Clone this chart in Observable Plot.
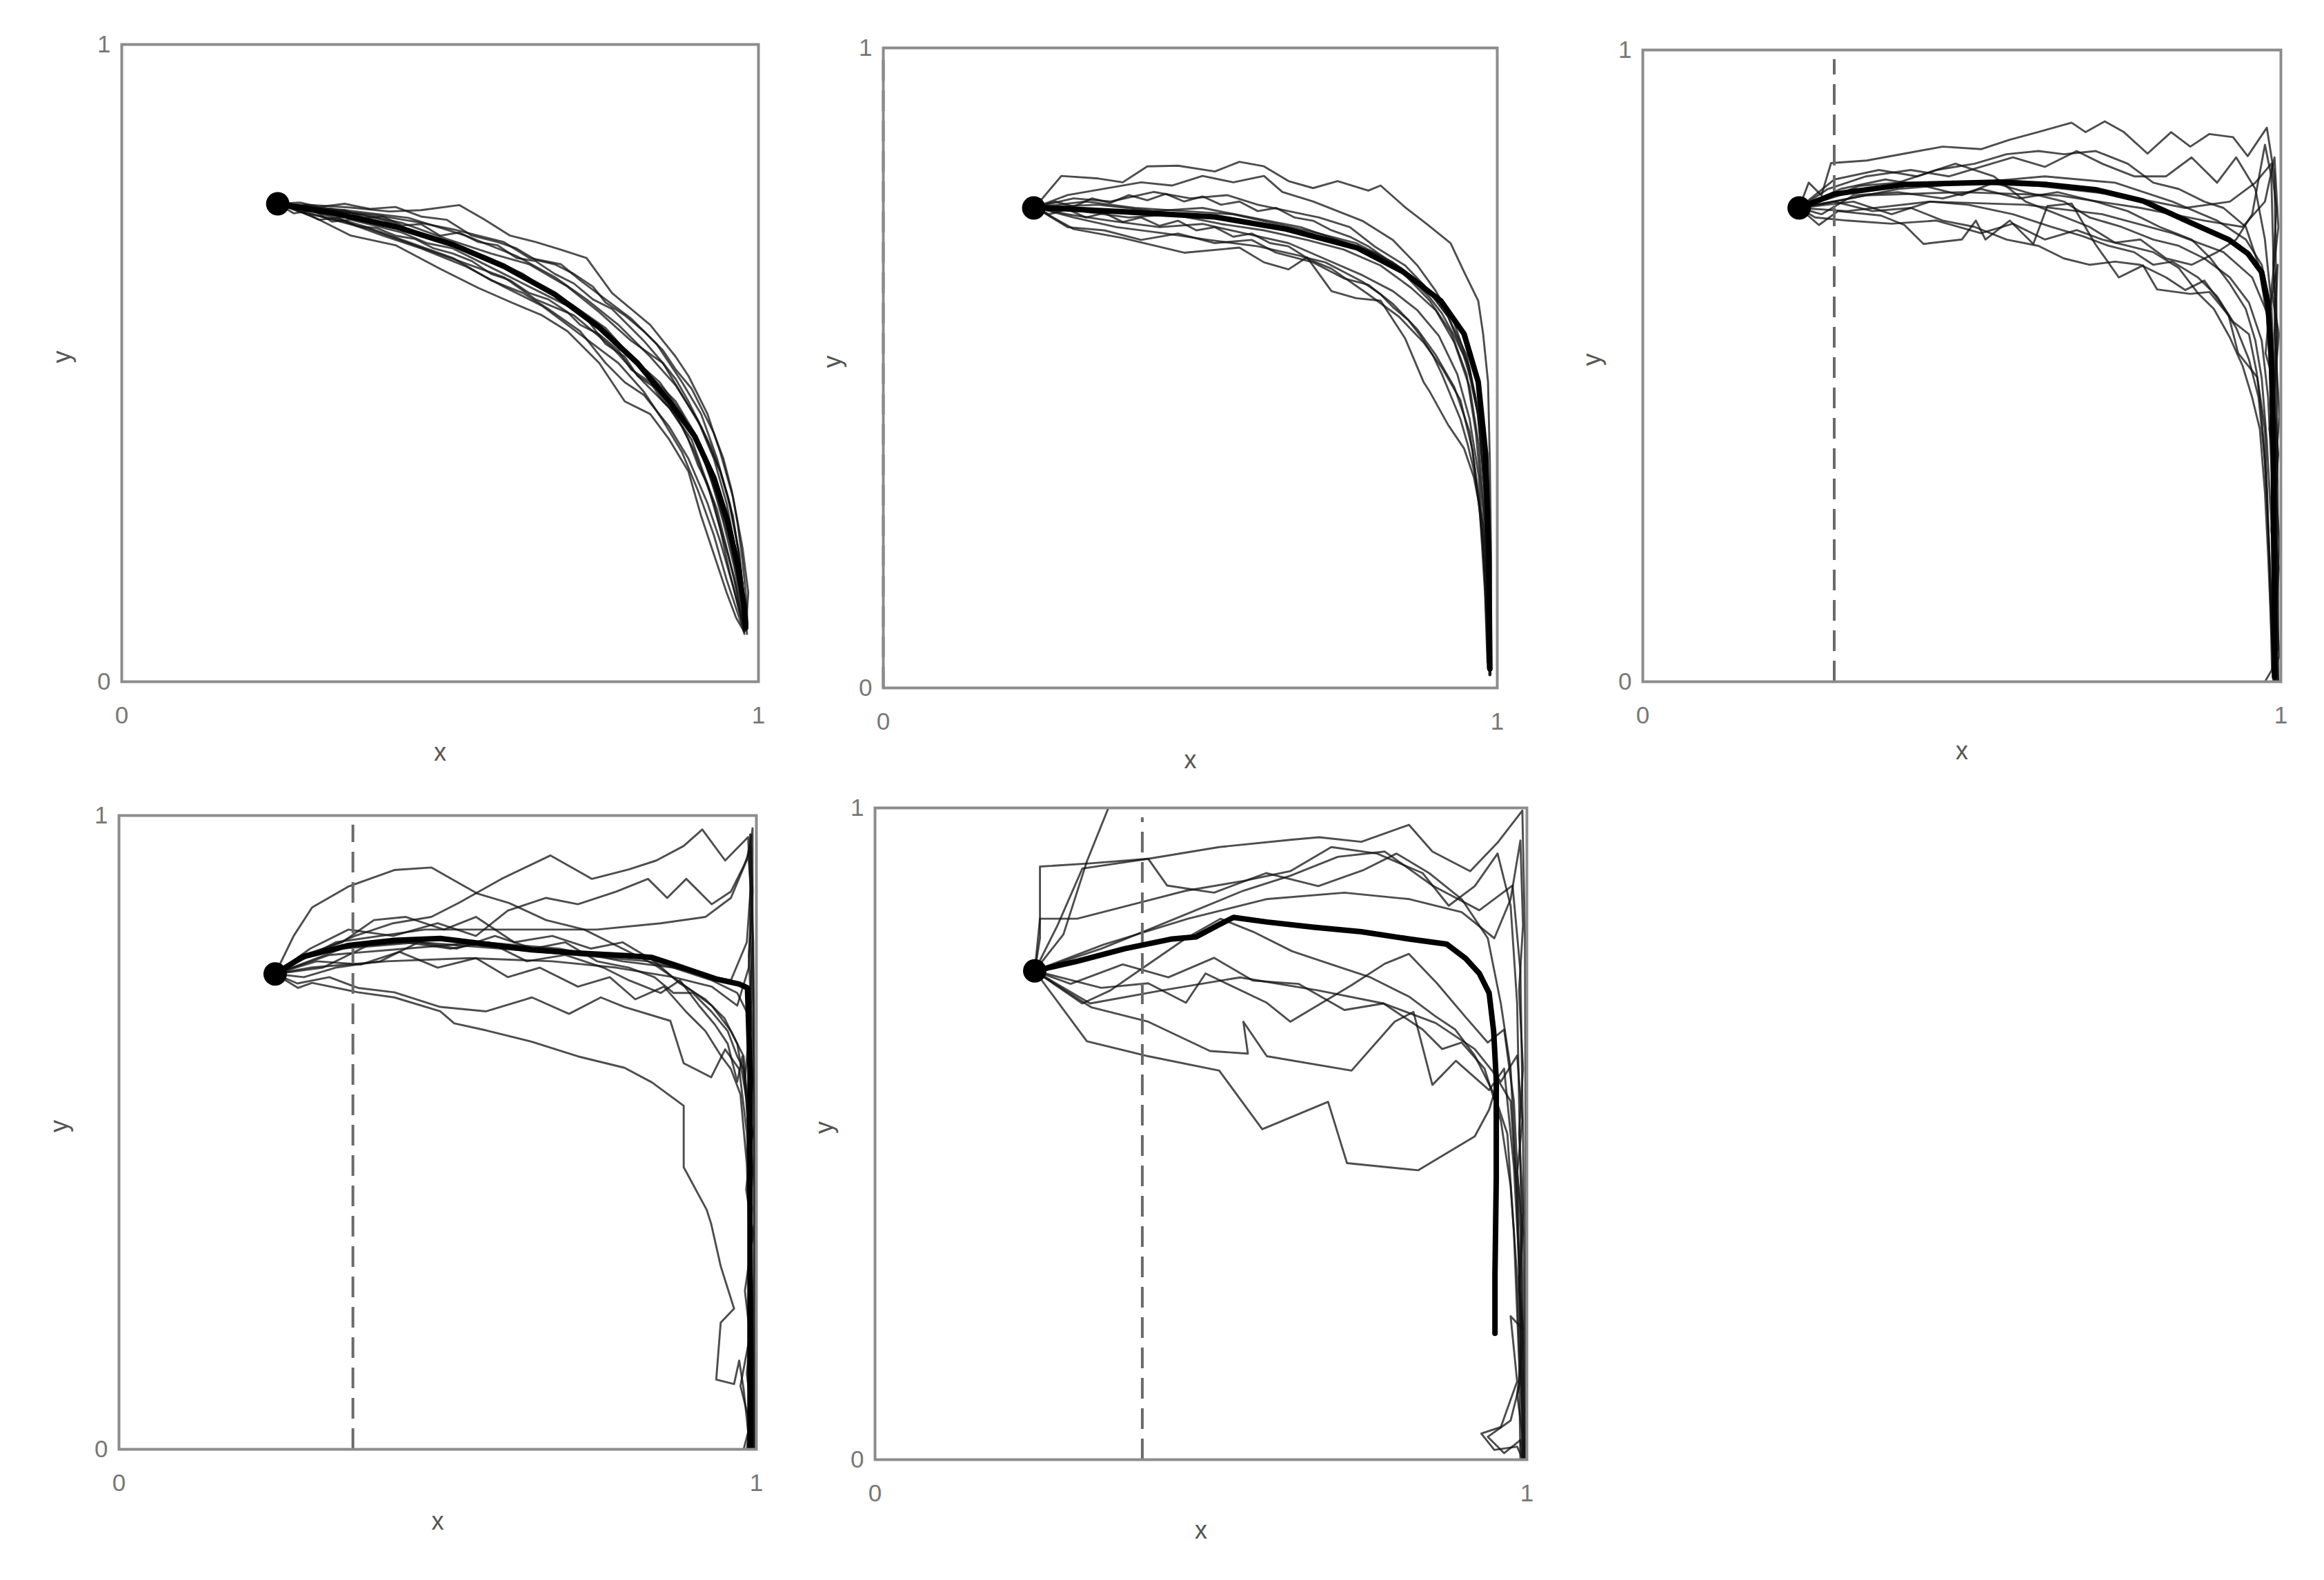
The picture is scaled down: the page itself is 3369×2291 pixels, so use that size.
<!DOCTYPE html>
<html><head><meta charset="utf-8">
<script src="https://cdn.jsdelivr.net/npm/d3@7"></script>
<script src="https://cdn.jsdelivr.net/npm/@observablehq/plot@0.6"></script>
<style>
html,body{margin:0;padding:0;background:#fff;}
#chart{position:relative;width:3369px;height:2291px;overflow:hidden;background:#fff;}
#chart svg{position:absolute;}
</style></head><body><div id="chart"></div>
<script>
// ---------- data (normalised x,y) ----------
const start = [0.245, 0.75];
const tickValues = [0, 1];
const dashX = [null, 0, 0.30, 0.367, 0.41];

const p1Mean = [[0.245,0.75],[0.33,0.736],[0.43,0.714],[0.52,0.686],[0.6,0.652],[0.68,0.608],[0.75,0.556],[0.81,0.5],[0.86,0.44],[0.9,0.385],[0.93,0.32],[0.952,0.25],[0.968,0.18],[0.977,0.12],[0.98,0.085]];
const p1Paths = [
 [[0.245,0.75],[0.30,0.748],[0.36,0.744],[0.42,0.738],[0.47,0.74],[0.53,0.748],[0.57,0.725],[0.61,0.70],[0.65,0.69],[0.69,0.678],[0.73,0.665],[0.77,0.61],[0.83,0.56],[0.87,0.51],[0.89,0.48],[0.92,0.42],[0.94,0.36],[0.96,0.29],[0.975,0.21],[0.984,0.14],[0.98,0.08]],
 [[0.245,0.75],[0.32,0.74],[0.40,0.732],[0.46,0.722],[0.52,0.71],[0.56,0.70],[0.60,0.69],[0.64,0.665],[0.69,0.655],[0.72,0.63],[0.76,0.60],[0.80,0.57],[0.84,0.53],[0.88,0.47],[0.91,0.42],[0.935,0.35],[0.955,0.28],[0.97,0.2],[0.978,0.12],[0.982,0.075]],
 [[0.245,0.75],[0.30,0.73],[0.36,0.70],[0.43,0.685],[0.50,0.648],[0.56,0.618],[0.61,0.596],[0.66,0.575],[0.70,0.55],[0.75,0.50],[0.79,0.44],[0.83,0.42],[0.86,0.38],[0.89,0.33],[0.91,0.26],[0.93,0.20],[0.95,0.14],[0.965,0.10],[0.978,0.078]],
 [[0.245,0.75],[0.31,0.735],[0.38,0.715],[0.45,0.69],[0.52,0.665],[0.58,0.63],[0.63,0.61],[0.67,0.585],[0.72,0.55],[0.76,0.50],[0.79,0.47],[0.82,0.45],[0.86,0.40],[0.89,0.35],[0.92,0.28],[0.94,0.22],[0.96,0.15],[0.975,0.09]],
 [[0.245,0.75],[0.33,0.742],[0.41,0.725],[0.48,0.70],[0.55,0.675],[0.61,0.645],[0.66,0.62],[0.71,0.59],[0.76,0.555],[0.80,0.51],[0.845,0.47],[0.88,0.42],[0.91,0.36],[0.935,0.29],[0.955,0.22],[0.97,0.15],[0.98,0.09]],
 [[0.245,0.75],[0.34,0.73],[0.42,0.718],[0.50,0.69],[0.57,0.668],[0.63,0.64],[0.69,0.60],[0.74,0.565],[0.79,0.52],[0.83,0.48],[0.87,0.44],[0.90,0.39],[0.925,0.32],[0.945,0.25],[0.962,0.18],[0.975,0.11],[0.982,0.085]],
 [[0.245,0.75],[0.30,0.74],[0.37,0.735],[0.44,0.72],[0.51,0.695],[0.58,0.672],[0.64,0.655],[0.70,0.62],[0.75,0.58],[0.80,0.535],[0.85,0.50],[0.88,0.45],[0.91,0.40],[0.94,0.33],[0.96,0.26],[0.972,0.18],[0.98,0.10]],
 [[0.245,0.75],[0.32,0.728],[0.39,0.71],[0.46,0.685],[0.53,0.66],[0.60,0.635],[0.65,0.60],[0.71,0.575],[0.77,0.525],[0.82,0.47],[0.86,0.43],[0.895,0.38],[0.92,0.31],[0.94,0.24],[0.955,0.17],[0.968,0.12],[0.978,0.08]],
 [[0.245,0.75],[0.35,0.74],[0.45,0.728],[0.54,0.70],[0.62,0.668],[0.68,0.635],[0.73,0.60],[0.78,0.56],[0.83,0.51],[0.87,0.465],[0.905,0.41],[0.93,0.35],[0.95,0.28],[0.965,0.2],[0.976,0.13],[0.98,0.09]],
 [[0.245,0.75],[0.29,0.735],[0.35,0.722],[0.41,0.70],[0.47,0.68],[0.54,0.652],[0.60,0.62],[0.66,0.59],[0.72,0.545],[0.78,0.50],[0.82,0.455],[0.85,0.41],[0.88,0.36],[0.905,0.30],[0.93,0.23],[0.95,0.16],[0.97,0.1],[0.978,0.075]],
 [[0.245,0.75],[0.27,0.745],[0.29,0.748],[0.32,0.738],[0.35,0.74],[0.38,0.728],[0.41,0.73],[0.44,0.716],[0.47,0.718],[0.50,0.70],[0.53,0.705],[0.56,0.69],[0.59,0.685],[0.62,0.665],[0.65,0.66],[0.68,0.64],[0.71,0.625],[0.74,0.60],[0.77,0.585],[0.80,0.555],[0.82,0.535],[0.85,0.50],[0.87,0.475],[0.89,0.44],[0.91,0.40],[0.925,0.37],[0.94,0.33],[0.952,0.29],[0.96,0.25],[0.968,0.21],[0.974,0.16],[0.978,0.12],[0.981,0.085]],
 [[0.245,0.75],[0.28,0.738],[0.31,0.725],[0.34,0.728],[0.37,0.715],[0.40,0.712],[0.43,0.70],[0.46,0.695],[0.49,0.68],[0.52,0.672],[0.55,0.66],[0.58,0.64],[0.61,0.63],[0.64,0.61],[0.67,0.60],[0.70,0.58],[0.72,0.56],[0.75,0.545],[0.78,0.52],[0.80,0.49],[0.83,0.47],[0.85,0.44],[0.87,0.42],[0.89,0.38],[0.905,0.34],[0.92,0.31],[0.935,0.27],[0.945,0.23],[0.955,0.19],[0.965,0.15],[0.972,0.11],[0.978,0.08]],
 [[0.245,0.75],[0.28,0.752],[0.31,0.745],[0.35,0.75],[0.39,0.742],[0.43,0.745],[0.47,0.73],[0.51,0.725],[0.55,0.70],[0.59,0.69],[0.62,0.68],[0.65,0.662],[0.68,0.655],[0.71,0.64],[0.74,0.62],[0.76,0.595],[0.79,0.575],[0.82,0.55],[0.85,0.52],[0.87,0.49],[0.895,0.46],[0.91,0.43],[0.93,0.39],[0.945,0.35],[0.958,0.30],[0.967,0.25],[0.975,0.19],[0.98,0.14],[0.983,0.09]],
 [[0.245,0.75],[0.27,0.735],[0.30,0.74],[0.33,0.722],[0.36,0.725],[0.40,0.715],[0.44,0.705],[0.48,0.688],[0.52,0.68],[0.56,0.66],[0.60,0.64],[0.63,0.625],[0.66,0.61],[0.70,0.59],[0.73,0.57],[0.76,0.53],[0.79,0.51],[0.81,0.48],[0.84,0.46],[0.86,0.43],[0.88,0.40],[0.90,0.36],[0.915,0.32],[0.93,0.28],[0.94,0.24],[0.952,0.20],[0.962,0.16],[0.97,0.12],[0.977,0.085]]
];

const p2Mean = [[0.247,0.751],[0.39,0.744],[0.54,0.736],[0.656,0.717],[0.771,0.688],[0.847,0.65],[0.908,0.605],[0.946,0.553],[0.969,0.478],[0.981,0.366],[0.986,0.217],[0.988,0.03]];
const p2Paths = [
 [[0.247,0.751],[0.29,0.80],[0.35,0.796],[0.39,0.79],[0.43,0.815],[0.48,0.816],[0.54,0.807],[0.58,0.822],[0.62,0.815],[0.66,0.792],[0.70,0.781],[0.74,0.792],[0.79,0.777],[0.81,0.785],[0.85,0.751],[0.885,0.725],[0.924,0.695],[0.946,0.65],[0.969,0.605],[0.977,0.553],[0.985,0.478],[0.988,0.35],[0.99,0.2],[0.99,0.03]],
 [[0.247,0.751],[0.30,0.77],[0.36,0.78],[0.42,0.79],[0.47,0.785],[0.52,0.80],[0.57,0.79],[0.62,0.80],[0.65,0.775],[0.70,0.76],[0.74,0.745],[0.78,0.73],[0.83,0.70],[0.87,0.66],[0.90,0.62],[0.93,0.57],[0.955,0.50],[0.97,0.42],[0.98,0.30],[0.985,0.15],[0.988,0.02]],
 [[0.247,0.751],[0.31,0.765],[0.37,0.76],[0.44,0.775],[0.50,0.765],[0.56,0.77],[0.61,0.755],[0.66,0.745],[0.71,0.735],[0.76,0.72],[0.80,0.69],[0.85,0.66],[0.89,0.62],[0.92,0.58],[0.95,0.52],[0.968,0.44],[0.978,0.33],[0.984,0.2],[0.987,0.05]],
 [[0.247,0.751],[0.31,0.717],[0.39,0.703],[0.49,0.68],[0.58,0.688],[0.62,0.665],[0.66,0.654],[0.69,0.673],[0.73,0.62],[0.77,0.609],[0.81,0.605],[0.85,0.546],[0.88,0.478],[0.89,0.463],[0.92,0.411],[0.946,0.374],[0.962,0.329],[0.977,0.254],[0.985,0.142],[0.989,0.022]],
 [[0.247,0.751],[0.30,0.72],[0.36,0.715],[0.42,0.70],[0.48,0.71],[0.54,0.695],[0.60,0.70],[0.64,0.68],[0.70,0.665],[0.75,0.64],[0.79,0.63],[0.83,0.60],[0.87,0.56],[0.90,0.52],[0.93,0.47],[0.955,0.40],[0.97,0.30],[0.98,0.18],[0.986,0.04]],
 [[0.247,0.751],[0.32,0.745],[0.40,0.735],[0.47,0.74],[0.55,0.725],[0.62,0.715],[0.69,0.70],[0.75,0.685],[0.81,0.66],[0.86,0.625],[0.90,0.59],[0.93,0.54],[0.955,0.47],[0.97,0.38],[0.98,0.26],[0.985,0.12],[0.987,0.03]],
 [[0.247,0.751],[0.33,0.76],[0.41,0.75],[0.49,0.745],[0.57,0.74],[0.64,0.725],[0.71,0.71],[0.77,0.695],[0.83,0.665],[0.88,0.63],[0.92,0.58],[0.95,0.51],[0.968,0.43],[0.98,0.31],[0.986,0.18],[0.988,0.04]],
 [[0.247,0.751],[0.30,0.74],[0.37,0.73],[0.45,0.72],[0.52,0.725],[0.59,0.71],[0.66,0.695],[0.72,0.67],[0.78,0.645],[0.83,0.62],[0.87,0.59],[0.905,0.55],[0.935,0.49],[0.955,0.42],[0.97,0.33],[0.978,0.22],[0.983,0.1],[0.985,0.03]],
 [[0.247,0.751],[0.35,0.755],[0.44,0.745],[0.52,0.75],[0.60,0.735],[0.68,0.72],[0.74,0.70],[0.80,0.68],[0.85,0.645],[0.89,0.605],[0.925,0.555],[0.95,0.49],[0.965,0.40],[0.977,0.28],[0.984,0.15],[0.987,0.02]],
 [[0.247,0.751],[0.31,0.735],[0.38,0.72],[0.46,0.71],[0.53,0.70],[0.61,0.69],[0.68,0.675],[0.73,0.655],[0.79,0.615],[0.84,0.58],[0.88,0.54],[0.91,0.50],[0.94,0.45],[0.96,0.37],[0.972,0.27],[0.98,0.15],[0.984,0.04]],
 [[0.247,0.751],[0.28,0.76],[0.31,0.752],[0.34,0.765],[0.37,0.758],[0.40,0.77],[0.43,0.762],[0.46,0.772],[0.49,0.76],[0.52,0.768],[0.55,0.755],[0.58,0.76],[0.61,0.745],[0.64,0.75],[0.67,0.735],[0.70,0.73],[0.73,0.715],[0.76,0.705],[0.79,0.69],[0.82,0.67],[0.845,0.655],[0.87,0.63],[0.89,0.61],[0.91,0.585],[0.93,0.55],[0.945,0.52],[0.958,0.48],[0.968,0.43],[0.975,0.37],[0.98,0.30],[0.984,0.22],[0.986,0.14],[0.988,0.06],[0.989,0.02]],
 [[0.247,0.751],[0.27,0.74],[0.30,0.748],[0.33,0.735],[0.36,0.742],[0.39,0.728],[0.42,0.735],[0.45,0.722],[0.48,0.73],[0.51,0.715],[0.54,0.72],[0.57,0.705],[0.60,0.71],[0.63,0.695],[0.66,0.69],[0.69,0.672],[0.72,0.665],[0.75,0.65],[0.78,0.635],[0.81,0.615],[0.83,0.595],[0.855,0.575],[0.875,0.55],[0.895,0.52],[0.91,0.49],[0.925,0.455],[0.94,0.42],[0.952,0.38],[0.962,0.34],[0.97,0.29],[0.976,0.23],[0.98,0.16],[0.983,0.09],[0.985,0.03]]
];

const p3Mean = [[0.245,0.75],[0.30,0.772],[0.41,0.787],[0.56,0.791],[0.634,0.787],[0.709,0.779],[0.784,0.761],[0.858,0.727],[0.918,0.70],[0.948,0.678],[0.97,0.648],[0.98,0.595],[0.985,0.52],[0.988,0.369],[0.989,0.218],[0.99,0.008]];
const p3Paths = [
 [[0.245,0.75],[0.26,0.79],[0.28,0.77],[0.295,0.821],[0.351,0.825],[0.41,0.836],[0.47,0.847],[0.53,0.843],[0.575,0.858],[0.619,0.87],[0.672,0.885],[0.694,0.87],[0.724,0.887],[0.754,0.87],[0.791,0.836],[0.828,0.87],[0.858,0.847],[0.888,0.867],[0.925,0.862],[0.948,0.832],[0.978,0.877],[0.99,0.80],[0.993,0.6],[0.995,0.3],[0.996,0.0]],
 [[0.245,0.75],[0.29,0.78],[0.35,0.80],[0.42,0.81],[0.48,0.80],[0.53,0.815],[0.58,0.83],[0.63,0.815],[0.68,0.84],[0.72,0.82],[0.77,0.80],[0.82,0.80],[0.86,0.83],[0.90,0.79],[0.93,0.83],[0.96,0.78],[0.975,0.70],[0.985,0.60],[0.99,0.45],[0.993,0.2],[0.994,0.0]],
 [[0.245,0.75],[0.276,0.723],[0.306,0.745],[0.373,0.738],[0.41,0.723],[0.44,0.693],[0.50,0.70],[0.522,0.73],[0.537,0.70],[0.575,0.73],[0.612,0.693],[0.634,0.753],[0.672,0.757],[0.709,0.693],[0.746,0.64],[0.784,0.659],[0.806,0.621],[0.858,0.614],[0.888,0.617],[0.918,0.58],[0.933,0.52],[0.963,0.482],[0.975,0.40],[0.98,0.25],[0.985,0.1],[0.99,0.0]],
 [[0.245,0.75],[0.30,0.76],[0.36,0.745],[0.42,0.75],[0.47,0.73],[0.52,0.72],[0.57,0.70],[0.62,0.69],[0.66,0.67],[0.70,0.66],[0.74,0.665],[0.78,0.66],[0.82,0.64],[0.85,0.62],[0.88,0.635],[0.905,0.60],[0.93,0.56],[0.95,0.51],[0.965,0.45],[0.975,0.35],[0.982,0.2],[0.986,0.02]],
 [[0.245,0.75],[0.31,0.78],[0.38,0.795],[0.44,0.785],[0.50,0.77],[0.55,0.79],[0.60,0.775],[0.66,0.76],[0.70,0.735],[0.75,0.72],[0.80,0.70],[0.84,0.69],[0.88,0.67],[0.92,0.64],[0.95,0.60],[0.97,0.54],[0.98,0.45],[0.987,0.3],[0.99,0.1],[0.992,0.0]],
 [[0.245,0.75],[0.30,0.795],[0.37,0.81],[0.43,0.80],[0.49,0.82],[0.55,0.80],[0.60,0.76],[0.65,0.74],[0.70,0.72],[0.74,0.695],[0.78,0.70],[0.82,0.67],[0.86,0.66],[0.90,0.68],[0.93,0.70],[0.955,0.74],[0.975,0.85],[0.985,0.80],[0.99,0.6],[0.993,0.35],[0.995,0.05]],
 [[0.245,0.75],[0.28,0.74],[0.33,0.77],[0.40,0.775],[0.47,0.765],[0.53,0.78],[0.59,0.765],[0.65,0.775],[0.71,0.76],[0.76,0.745],[0.81,0.72],[0.86,0.70],[0.89,0.67],[0.92,0.63],[0.945,0.59],[0.96,0.54],[0.97,0.48],[0.978,0.38],[0.985,0.25],[0.99,0.1],[0.992,0.0]],
 [[0.245,0.75],[0.33,0.76],[0.39,0.74],[0.45,0.76],[0.51,0.755],[0.58,0.74],[0.64,0.72],[0.69,0.705],[0.73,0.69],[0.77,0.68],[0.80,0.66],[0.83,0.665],[0.87,0.64],[0.90,0.61],[0.925,0.57],[0.95,0.55],[0.962,0.49],[0.97,0.42],[0.978,0.30],[0.984,0.15],[0.988,0.0]],
 [[0.245,0.75],[0.29,0.765],[0.34,0.785],[0.40,0.79],[0.46,0.81],[0.52,0.82],[0.57,0.835],[0.62,0.84],[0.66,0.835],[0.71,0.84],[0.76,0.82],[0.80,0.79],[0.84,0.78],[0.88,0.76],[0.91,0.75],[0.945,0.72],[0.965,0.66],[0.978,0.58],[0.985,0.45],[0.99,0.25],[0.993,0.03]],
 [[0.245,0.75],[0.27,0.735],[0.32,0.73],[0.39,0.725],[0.46,0.73],[0.53,0.71],[0.58,0.725],[0.63,0.70],[0.68,0.715],[0.72,0.70],[0.76,0.69],[0.80,0.68],[0.84,0.655],[0.87,0.615],[0.895,0.59],[0.92,0.545],[0.94,0.50],[0.955,0.45],[0.967,0.40],[0.975,0.30],[0.98,0.2],[0.985,0.08],[0.99,0.0]],
 [[0.245,0.75],[0.35,0.77],[0.5,0.775],[0.65,0.77],[0.78,0.75],[0.88,0.73],[0.94,0.72],[0.975,0.76],[0.99,0.83],[0.996,0.72],[0.985,0.62],[0.997,0.55],[0.988,0.45],[0.996,0.36],[0.986,0.27],[0.997,0.18],[0.99,0.09],[0.996,0.0]],
 [[0.245,0.75],[0.32,0.745],[0.45,0.76],[0.60,0.755],[0.72,0.74],[0.83,0.71],[0.91,0.68],[0.955,0.64],[0.98,0.58],[0.995,0.66],[0.99,0.55],[0.998,0.42],[0.99,0.33],[0.998,0.22],[0.992,0.12],[0.998,0.04],[0.975,0.0]],
 [[0.245,0.75],[0.30,0.76],[0.40,0.78],[0.52,0.79],[0.63,0.80],[0.74,0.79],[0.83,0.76],[0.90,0.73],[0.945,0.70],[0.97,0.66],[0.983,0.60],[0.976,0.52],[0.99,0.47],[0.982,0.40],[0.994,0.32],[0.985,0.24],[0.995,0.15],[0.988,0.06],[0.993,0.0]],
 [[0.245,0.75],[0.34,0.78],[0.48,0.79],[0.62,0.785],[0.75,0.77],[0.85,0.75],[0.92,0.76],[0.96,0.79],[0.985,0.82],[0.993,0.75],[0.988,0.66],[0.994,0.55],[0.989,0.45],[0.995,0.35],[0.989,0.25],[0.994,0.15],[0.99,0.05],[0.994,0.0]]
];

const p4Mean = [[0.245,0.75],[0.288,0.777],[0.36,0.795],[0.432,0.803],[0.504,0.806],[0.576,0.797],[0.648,0.788],[0.72,0.783],[0.793,0.779],[0.836,0.776],[0.879,0.762],[0.937,0.742],[0.973,0.734],[0.986,0.728],[0.99,0.6],[0.99,0.3],[0.99,0.0]];
const p4Paths = [
 [[0.245,0.75],[0.281,0.728],[0.303,0.736],[0.375,0.721],[0.432,0.713],[0.504,0.691],[0.526,0.672],[0.576,0.661],[0.648,0.643],[0.72,0.62],[0.793,0.602],[0.836,0.579],[0.886,0.542],[0.886,0.445],[0.922,0.378],[0.929,0.356],[0.944,0.289],[0.965,0.222],[0.944,0.20],[0.937,0.11],[0.965,0.103],[0.973,0.14],[0.98,0.095],[0.987,0.028],[0.994,0.002]],
 [[0.245,0.75],[0.274,0.81],[0.303,0.855],[0.36,0.888],[0.432,0.914],[0.49,0.918],[0.562,0.877],[0.612,0.862],[0.67,0.835],[0.73,0.82],[0.79,0.79],[0.84,0.765],[0.89,0.73],[0.93,0.70],[0.96,0.66],[0.98,0.62],[0.99,0.5],[0.993,0.3],[0.995,0.1],[0.995,0.0]],
 [[0.245,0.75],[0.30,0.78],[0.37,0.81],[0.43,0.83],[0.49,0.84],[0.533,0.862],[0.60,0.90],[0.677,0.937],[0.742,0.90],[0.80,0.915],[0.843,0.929],[0.886,0.952],[0.915,0.978],[0.951,0.929],[0.987,0.966],[0.995,0.8],[0.996,0.5],[0.997,0.2],[0.997,0.0]],
 [[0.245,0.75],[0.28,0.735],[0.33,0.745],[0.375,0.728],[0.432,0.721],[0.504,0.698],[0.576,0.691],[0.648,0.713],[0.706,0.687],[0.756,0.713],[0.793,0.698],[0.865,0.676],[0.886,0.609],[0.929,0.587],[0.951,0.631],[0.973,0.6],[0.985,0.5],[0.99,0.35],[0.993,0.15],[0.995,0.0]],
 [[0.245,0.75],[0.29,0.78],[0.35,0.80],[0.40,0.835],[0.45,0.84],[0.51,0.82],[0.56,0.84],[0.62,0.80],[0.68,0.81],[0.74,0.79],[0.79,0.80],[0.84,0.77],[0.88,0.735],[0.92,0.71],[0.95,0.68],[0.97,0.64],[0.985,0.55],[0.99,0.4],[0.994,0.2],[0.996,0.0]],
 [[0.245,0.75],[0.31,0.77],[0.38,0.765],[0.44,0.785],[0.50,0.76],[0.56,0.775],[0.61,0.745],[0.66,0.76],[0.72,0.73],[0.77,0.745],[0.81,0.71],[0.855,0.73],[0.89,0.69],[0.92,0.66],[0.945,0.62],[0.96,0.60],[0.975,0.56],[0.985,0.45],[0.99,0.3],[0.994,0.1],[0.995,0.0]],
 [[0.245,0.75],[0.30,0.79],[0.36,0.82],[0.43,0.81],[0.50,0.83],[0.56,0.81],[0.61,0.85],[0.67,0.87],[0.72,0.86],[0.78,0.88],[0.83,0.90],[0.86,0.87],[0.89,0.90],[0.93,0.86],[0.96,0.88],[0.98,0.92],[0.992,0.95],[0.996,0.7],[0.997,0.4],[0.997,0.0]],
 [[0.245,0.75],[0.32,0.76],[0.39,0.795],[0.45,0.80],[0.52,0.79],[0.58,0.80],[0.64,0.77],[0.70,0.78],[0.76,0.76],[0.80,0.74],[0.85,0.72],[0.88,0.74],[0.91,0.70],[0.935,0.67],[0.955,0.64],[0.97,0.58],[0.978,0.62],[0.985,0.55],[0.99,0.45],[0.993,0.25],[0.995,0.0]],
 [[0.245,0.75],[0.29,0.745],[0.34,0.76],[0.41,0.77],[0.47,0.80],[0.53,0.79],[0.59,0.81],[0.65,0.79],[0.70,0.80],[0.75,0.77],[0.80,0.76],[0.84,0.745],[0.87,0.72],[0.90,0.72],[0.93,0.69],[0.955,0.66],[0.97,0.62],[0.98,0.60],[0.988,0.5],[0.992,0.3],[0.995,0.05]],
 [[0.245,0.75],[0.35,0.79],[0.47,0.80],[0.60,0.79],[0.72,0.78],[0.83,0.77],[0.91,0.75],[0.96,0.74],[0.985,0.80],[0.992,0.90],[0.99,0.97],[0.994,0.88],[0.988,0.78],[0.994,0.65],[0.988,0.55],[0.994,0.44],[0.988,0.33],[0.994,0.22],[0.985,0.12],[0.993,0.05],[0.98,0.0]],
 [[0.245,0.75],[0.30,0.76],[0.42,0.77],[0.55,0.775],[0.68,0.77],[0.78,0.76],[0.87,0.745],[0.93,0.73],[0.97,0.70],[0.988,0.76],[0.993,0.86],[0.988,0.93],[0.994,0.98],[0.994,0.8],[0.989,0.68],[0.994,0.58],[0.986,0.47],[0.993,0.38],[0.988,0.28],[0.994,0.17],[0.99,0.08],[0.994,0.0]],
 [[0.245,0.75],[0.33,0.78],[0.45,0.79],[0.57,0.80],[0.69,0.79],[0.79,0.77],[0.87,0.76],[0.93,0.74],[0.97,0.72],[0.99,0.68],[0.982,0.58],[0.994,0.5],[0.984,0.41],[0.995,0.34],[0.982,0.25],[0.99,0.18],[0.975,0.1],[0.99,0.04],[0.985,0.0]],
 [[0.245,0.75],[0.34,0.80],[0.48,0.82],[0.62,0.82],[0.75,0.82],[0.85,0.83],[0.92,0.84],[0.96,0.87],[0.985,0.93],[0.992,0.97],[0.99,0.85],[0.993,0.72],[0.989,0.62],[0.993,0.5],[0.989,0.38],[0.993,0.26],[0.988,0.14],[0.992,0.0]]
];

const p5Mean = [[0.245,0.75],[0.311,0.765],[0.383,0.784],[0.456,0.799],[0.492,0.802],[0.528,0.821],[0.55,0.832],[0.601,0.825],[0.673,0.817],[0.746,0.81],[0.819,0.799],[0.877,0.791],[0.906,0.769],[0.927,0.746],[0.942,0.716],[0.949,0.657],[0.953,0.582],[0.953,0.433],[0.951,0.284],[0.951,0.194]];
const p5Paths = [
 [[0.245,0.75],[0.289,0.806],[0.325,0.918],[0.358,1.0],[0.37,1.03]],
 [[0.245,0.75],[0.253,0.80],[0.253,0.91],[0.33,0.915],[0.419,0.922],[0.448,0.881],[0.52,0.87],[0.60,0.90],[0.68,0.88],[0.75,0.905],[0.80,0.93],[0.85,0.90],[0.90,0.86],[0.94,0.80],[0.96,0.70],[0.975,0.60],[0.985,0.4],[0.99,0.2],[0.993,0.0]],
 [[0.245,0.75],[0.28,0.82],[0.318,0.907],[0.419,0.922],[0.528,0.94],[0.637,0.951],[0.681,0.955],[0.746,0.948],[0.819,0.974],[0.855,0.933],[0.913,0.903],[0.956,0.948],[0.993,0.996],[0.997,0.8],[0.998,0.5],[0.998,0.2],[0.999,0.0]],
 [[0.245,0.75],[0.325,0.642],[0.419,0.619],[0.528,0.597],[0.594,0.507],[0.695,0.549],[0.724,0.455],[0.833,0.444],[0.92,0.496],[0.942,0.537],[0.956,0.582],[0.975,0.55],[0.985,0.40],[0.99,0.25],[0.995,0.0]],
 [[0.245,0.75],[0.332,0.694],[0.419,0.672],[0.514,0.627],[0.572,0.623],[0.565,0.672],[0.601,0.619],[0.731,0.597],[0.797,0.672],[0.826,0.687],[0.855,0.575],[0.891,0.612],[0.942,0.567],[0.965,0.60],[0.98,0.45],[0.988,0.3],[0.992,0.1],[0.995,0.0]],
 [[0.245,0.75],[0.347,0.724],[0.419,0.731],[0.477,0.701],[0.507,0.746],[0.601,0.701],[0.637,0.672],[0.731,0.728],[0.782,0.761],[0.819,0.776],[0.862,0.731],[0.906,0.679],[0.94,0.64],[0.965,0.66],[0.98,0.55],[0.99,0.35],[0.995,0.1],[0.996,0.0]],
 [[0.245,0.75],[0.347,0.784],[0.419,0.813],[0.492,0.843],[0.565,0.873],[0.637,0.896],[0.71,0.925],[0.782,0.933],[0.855,0.881],[0.927,0.843],[0.978,0.881],[0.99,0.75],[0.994,0.5],[0.996,0.25],[0.997,0.0]],
 [[0.245,0.75],[0.253,0.83],[0.31,0.83],[0.419,0.858],[0.477,0.873],[0.565,0.888],[0.637,0.903],[0.70,0.94],[0.77,0.93],[0.84,0.90],[0.88,0.85],[0.92,0.88],[0.955,0.93],[0.975,0.85],[0.985,0.7],[0.99,0.45],[0.994,0.2],[0.996,0.0]],
 [[0.245,0.75],[0.318,0.70],[0.361,0.72],[0.419,0.76],[0.477,0.80],[0.53,0.83],[0.58,0.81],[0.64,0.78],[0.70,0.76],[0.76,0.74],[0.82,0.71],[0.86,0.68],[0.89,0.66],[0.92,0.62],[0.95,0.56],[0.97,0.50],[0.98,0.35],[0.988,0.15],[0.99,0.0]],
 [[0.245,0.75],[0.30,0.73],[0.38,0.76],[0.45,0.74],[0.52,0.77],[0.58,0.735],[0.65,0.73],[0.72,0.69],[0.78,0.70],[0.84,0.66],[0.87,0.63],[0.90,0.64],[0.935,0.60],[0.96,0.52],[0.975,0.42],[0.985,0.28],[0.99,0.12],[0.975,0.06],[0.94,0.035],[0.965,0.01],[0.99,0.03],[0.993,0.0]],
 [[0.245,0.75],[0.35,0.79],[0.48,0.83],[0.60,0.86],[0.72,0.87],[0.82,0.86],[0.90,0.84],[0.95,0.80],[0.975,0.86],[0.99,0.95],[0.994,0.82],[0.988,0.72],[0.994,0.6],[0.988,0.5],[0.994,0.38],[0.988,0.28],[0.994,0.18],[0.985,0.1],[0.993,0.04],[0.995,0.0]],
 [[0.245,0.75],[0.33,0.70],[0.44,0.72],[0.56,0.74],[0.68,0.72],[0.78,0.70],[0.86,0.67],[0.92,0.63],[0.96,0.58],[0.985,0.62],[0.993,0.52],[0.985,0.44],[0.994,0.35],[0.988,0.26],[0.994,0.2],[0.975,0.22],[0.985,0.12],[0.96,0.05],[0.93,0.04],[0.95,0.015],[0.985,0.02],[0.994,0.0]]
];

// ---------- layout ----------
const frames = [ // left, right, top, bottom in page pixels
  [176,1099,64,988],
  [1280,2170,69,997],
  [2381,3306,72,988],
  [172,1096,1182,2101],
  [1268,2213,1171,2116]
];
const yLabelOff = [86,73,73,86,73];
const xLabelOff = [114,116,112,116,114];
const means = [p1Mean,p2Mean,p3Mean,p4Mean,p5Mean];
const pathSets = [p1Paths,p2Paths,p3Paths,p4Paths,p5Paths];

const ML = 140, MR = 20, MT = 20, MB = 150;
const chart = document.getElementById("chart");

function rows(paths){
  const out = [];
  paths.forEach((p,i) => p.forEach(([x,y]) => out.push({x, y, k:i})));
  return out;
}

frames.forEach((f, i) => {
  const [L,R,T,B] = f;
  const w = R - L, h = B - T;
  const marks = [
    Plot.line(rows(pathSets[i]), {x:"x", y:"y", z:"k", stroke:"#111", strokeOpacity:0.75, strokeWidth:2.9, strokeLinejoin:"round", clip:true})
  ];
  if (dashX[i] != null) {
    marks.push(Plot.ruleX([dashX[i]], {y1:0, y2:0.985, stroke:"#6a6a6a", strokeWidth:4, strokeDasharray:"30,14"}));
  }
  marks.push(
    Plot.line(means[i].map(([x,y]) => ({x,y})), {x:"x", y:"y", stroke:"#000", strokeWidth:8, strokeLinejoin:"round", strokeLinecap:"round", clip:true}),
    Plot.dot([start], {x:d=>d[0], y:d=>d[1], r:17, fill:"#000", stroke:"none"}),
    Plot.frame({stroke:"#8c8c8c", strokeWidth:4}),
    Plot.text(["x"], {text:d=>d, frameAnchor:"bottom", dy:xLabelOff[i], fill:"#555", fontSize:36}),
    Plot.text(["y"], {text:d=>d, frameAnchor:"left", dx:-yLabelOff[i], rotate:-90, fill:"#555", fontSize:36})
  );
  const svg = Plot.plot({
    width: w + ML + MR,
    height: h + MT + MB,
    marginLeft: ML, marginRight: MR, marginTop: MT, marginBottom: MB,
    style: {fontSize:"35px", fontFamily:"'Liberation Sans', Arial, sans-serif", color:"#777", background:"transparent", overflow:"visible", maxWidth:"none"},
    x: {domain:[0,1], ticks:tickValues, tickSize:0, tickPadding:36, tickFormat:d=>String(d), label:null},
    y: {domain:[0,1], ticks:tickValues, tickSize:0, tickPadding:16, tickFormat:d=>String(d), label:null},
    marks
  });
  svg.style.left = (L - ML) + "px";
  svg.style.top = (T - MT) + "px";
  chart.appendChild(svg);
});
</script>
</body></html>
